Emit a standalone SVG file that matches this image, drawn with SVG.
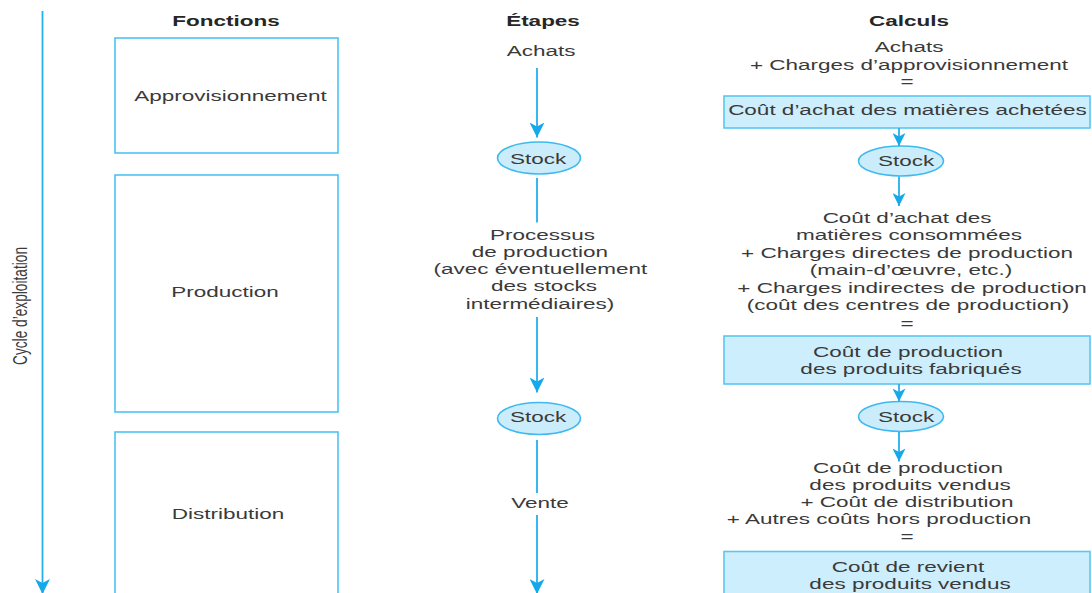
<svg xmlns="http://www.w3.org/2000/svg" width="1092" height="593" viewBox="0 0 1092 593">
  <style>
    text { font-family: "Liberation Sans", Arial, sans-serif; font-size: 15px; fill: #3a3a3a; text-anchor: middle; }
    text.head { font-weight: bold; fill: #262626; }
    text.side { font-size: 20.5px; }
    .frame { fill: #ffffff; stroke: #4cc3f4; stroke-width: 1.6; }
    .result { fill: #cdeefc; stroke: #5ac6f2; stroke-width: 1.6; }
    .stock { fill: #cbedfb; stroke: #3db9f0; stroke-width: 1.6; }
    .flow { fill: none; stroke: #22b0ee; stroke-width: 1.8; }
  </style>
  <defs>
    <marker id="head" viewBox="0 -7.5 15 15" refX="15" refY="0" markerWidth="15" markerHeight="15" markerUnits="userSpaceOnUse" orient="auto">
      <path d="M0,-7.5 L15,0 L0,7.5 L4,0 Z" fill="#15a9ea"/>
    </marker>
    <marker id="head-small" viewBox="0 -6.5 13 13" refX="13" refY="0" markerWidth="13" markerHeight="13" markerUnits="userSpaceOnUse" orient="auto">
      <path d="M0,-6.5 L13,0 L0,6.5 L3.5,0 Z" fill="#15a9ea"/>
    </marker>
  </defs>

  <!-- column titles -->
  <g id="headers">
    <text class="head" transform="translate(226 26) scale(1.5 1)">Fonctions</text>
    <text class="head" transform="translate(543 26) scale(1.5 1)">Étapes</text>
    <text class="head" transform="translate(909 26) scale(1.5 1)">Calculs</text>
  </g>

  <!-- operating cycle label -->
  <g id="cycle-label">
    <text class="side" transform="translate(27 306) rotate(-90)" textLength="118" lengthAdjust="spacingAndGlyphs">Cycle d’exploitation</text>
  </g>

  <!-- functions -->
  <g id="fn-approvisionnement">
    <rect class="frame" x="115" y="38" width="223" height="115"/>
    <text transform="translate(230.5 101) scale(1.5 1)">Approvisionnement</text>
  </g>
  <g id="fn-production">
    <rect class="frame" x="115" y="175" width="223" height="237"/>
    <text transform="translate(225 297) scale(1.5 1)">Production</text>
  </g>
  <g id="fn-distribution">
    <rect class="frame" x="115" y="432" width="223" height="180"/>
    <text transform="translate(228 518.5) scale(1.5 1)">Distribution</text>
  </g>

  <!-- stages -->
  <g id="et-achats">
    <text transform="translate(541 56) scale(1.5 1)">Achats</text>
  </g>
  <g id="et-stock-1">
    <ellipse class="stock" cx="539" cy="158" rx="41.5" ry="16"/>
    <text transform="translate(538 164) scale(1.5 1)">Stock</text>
  </g>
  <g id="et-processus">
    <text transform="translate(542.5 240) scale(1.5 1)">Processus</text>
    <text transform="translate(540 257) scale(1.5 1)">de production</text>
    <text transform="translate(540.5 274) scale(1.5 1)">(avec éventuellement</text>
    <text transform="translate(544 291) scale(1.5 1)">des stocks</text>
    <text transform="translate(540 308.5) scale(1.5 1)">intermédiaires)</text>
  </g>
  <g id="et-stock-2">
    <ellipse class="stock" cx="539" cy="418.5" rx="41.5" ry="16"/>
    <text transform="translate(538 422) scale(1.5 1)">Stock</text>
  </g>
  <g id="et-vente">
    <text transform="translate(540 508) scale(1.5 1)">Vente</text>
  </g>

  <!-- calculations -->
  <g id="calc-achats">
    <text transform="translate(909 52) scale(1.5 1)">Achats</text>
    <text transform="translate(909 69.5) scale(1.5 1)">+ Charges d’approvisionnement</text>
    <text transform="translate(907 87) scale(1.5 1)">=</text>
  </g>
  <g id="calc-cout-achat">
    <rect class="result" x="724" y="96" width="366" height="32"/>
    <text transform="translate(907.5 115) scale(1.5 1)">Coût d’achat des matières achetées</text>
  </g>
  <g id="calc-stock-1">
    <ellipse class="stock" cx="901" cy="161" rx="42.5" ry="15"/>
    <text transform="translate(906 166) scale(1.5 1)">Stock</text>
  </g>
  <g id="calc-production">
    <text transform="translate(907 222.5) scale(1.5 1)">Coût d’achat des</text>
    <text transform="translate(909 239.5) scale(1.5 1)">matières consommées</text>
    <text transform="translate(907 257.5) scale(1.5 1)">+ Charges directes de production</text>
    <text transform="translate(911 275) scale(1.5 1)">(main-d’œuvre, etc.)</text>
    <text transform="translate(912 292.5) scale(1.5 1)">+ Charges indirectes de production</text>
    <text transform="translate(908 309.5) scale(1.5 1)">(coût des centres de production)</text>
    <text transform="translate(907 328.5) scale(1.5 1)">=</text>
  </g>
  <g id="calc-cout-production">
    <rect class="result" x="724" y="336" width="366" height="48"/>
    <text transform="translate(908 357) scale(1.5 1)">Coût de production</text>
    <text transform="translate(911 373.5) scale(1.5 1)">des produits fabriqués</text>
  </g>
  <g id="calc-stock-2">
    <ellipse class="stock" cx="901" cy="416.5" rx="42.5" ry="15"/>
    <text transform="translate(906 421.5) scale(1.5 1)">Stock</text>
  </g>
  <g id="calc-distribution">
    <text transform="translate(908 472.5) scale(1.5 1)">Coût de production</text>
    <text transform="translate(910 489.5) scale(1.5 1)">des produits vendus</text>
    <text transform="translate(907 506.5) scale(1.5 1)">+ Coût de distribution</text>
    <text transform="translate(879 524) scale(1.5 1)">+ Autres coûts hors production</text>
    <text transform="translate(907 542) scale(1.5 1)">=</text>
  </g>
  <g id="calc-cout-revient">
    <rect class="result" x="724" y="551.5" width="366" height="60"/>
    <text transform="translate(908 571.5) scale(1.5 1)">Coût de revient</text>
    <text transform="translate(910 588.5) scale(1.5 1)">des produits vendus</text>
  </g>

  <!-- connectors -->
  <g id="connectors">
    <line class="flow" x1="42.5" y1="11" x2="42.5" y2="594" marker-end="url(#head)"/>

    <line class="flow" x1="537" y1="68" x2="537" y2="137.5" marker-end="url(#head)"/>
    <line class="flow" x1="537" y1="178" x2="537" y2="222.5"/>
    <line class="flow" x1="537" y1="317" x2="537" y2="392.5" marker-end="url(#head)"/>
    <line class="flow" x1="537" y1="440" x2="537" y2="493"/>
    <line class="flow" x1="537" y1="515" x2="537" y2="594" marker-end="url(#head)"/>

    <line class="flow" x1="899" y1="128" x2="899" y2="146" marker-end="url(#head-small)"/>
    <line class="flow" x1="899" y1="176.5" x2="899" y2="206" marker-end="url(#head-small)"/>
    <line class="flow" x1="899" y1="384" x2="899" y2="401.5" marker-end="url(#head-small)"/>
    <line class="flow" x1="899" y1="432" x2="899" y2="461.5" marker-end="url(#head-small)"/>
  </g>
</svg>
